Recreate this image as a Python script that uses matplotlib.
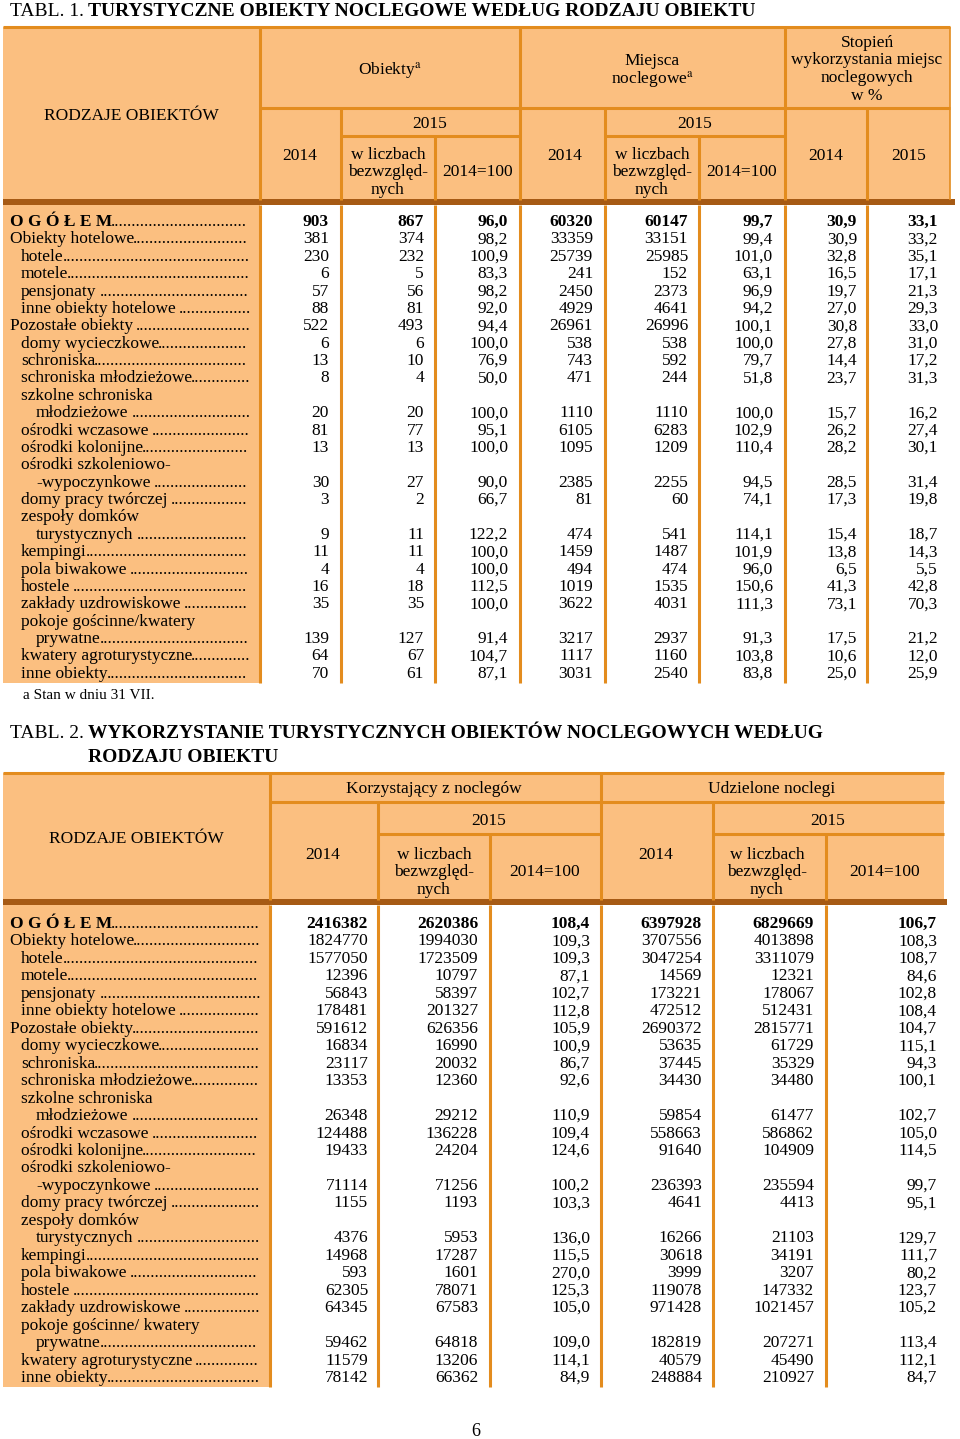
import matplotlib.pyplot as plt
from matplotlib.patches import Rectangle

plt.rcParams['font.family'] = ['Liberation Serif', 'DejaVu Serif']
plt.rcParams['mathtext.fontset'] = 'stix'

FILL = '#fbbf80'
LINE = '#e38c1e'
DARK = '#a65a14'
FS = 12.5

# ---- data: table 1 ----
t1_labels = ['O G Ó Ł E M', 'Obiekty hotelowe', 'hotele', 'motele', 'pensjonaty ',
             'inne obiekty hotelowe ', 'Pozostałe obiekty ', 'domy wycieczkowe',
             'schroniska', 'schroniska młodzieżowe', 'szkolne schroniska|młodzieżowe ',
             'ośrodki wczasowe ', 'ośrodki kolonijne', 'ośrodki szkoleniowo-|-wypoczynkowe ',
             'domy pracy twórczej ', 'zespoły domków|turystycznych ', 'kempingi',
             'pola biwakowe ', 'hostele ', 'zakłady uzdrowiskowe ',
             'pokoje gościnne/kwatery|prywatne', 'kwatery agroturystyczne', 'inne obiekty']
t2_labels = ['O G Ó Ł E M', 'Obiekty hotelowe', 'hotele', 'motele', 'pensjonaty ',
             'inne obiekty hotelowe ', 'Pozostałe obiekty', 'domy wycieczkowe',
             'schroniska', 'schroniska młodzieżowe', 'szkolne schroniska|młodzieżowe ',
             'ośrodki wczasowe ', 'ośrodki kolonijne', 'ośrodki szkoleniowo-|-wypoczynkowe ',
             'domy pracy twórczej ', 'zespoły domków|turystycznych ', 'kempingi',
             'pola biwakowe ', 'hostele ', 'zakłady uzdrowiskowe ',
             'pokoje gościnne/ kwatery|prywatne', 'kwatery agroturystyczne ', 'inne obiekty']
levels = [0, 0, 1, 1, 1, 1, 0, 1, 1, 1, 1, 1, 1, 1, 1, 1, 1, 1, 1, 1, 1, 1, 1]

obj_2014 = [903, 381, 230, 6, 57, 88, 522, 6, 13, 8, 20, 81, 13, 30, 3, 9, 11, 4, 16, 35, 139, 64, 70]
obj_2015 = [867, 374, 232, 5, 56, 81, 493, 6, 10, 4, 20, 77, 13, 27, 2, 11, 11, 4, 18, 35, 127, 67, 61]
obj_idx = [96.0, 98.2, 100.9, 83.3, 98.2, 92.0, 94.4, 100.0, 76.9, 50.0, 100.0, 95.1, 100.0,
           90.0, 66.7, 122.2, 100.0, 100.0, 112.5, 100.0, 91.4, 104.7, 87.1]
beds_2014 = [60320, 33359, 25739, 241, 2450, 4929, 26961, 538, 743, 471, 1110, 6105, 1095,
             2385, 81, 474, 1459, 494, 1019, 3622, 3217, 1117, 3031]
beds_2015 = [60147, 33151, 25985, 152, 2373, 4641, 26996, 538, 592, 244, 1110, 6283, 1209,
             2255, 60, 541, 1487, 474, 1535, 4031, 2937, 1160, 2540]
beds_idx = [99.7, 99.4, 101.0, 63.1, 96.9, 94.2, 100.1, 100.0, 79.7, 51.8, 100.0, 102.9, 110.4,
            94.5, 74.1, 114.1, 101.9, 96.0, 150.6, 111.3, 91.3, 103.8, 83.8]
occ_2014 = [30.9, 30.9, 32.8, 16.5, 19.7, 27.0, 30.8, 27.8, 14.4, 23.7, 15.7, 26.2, 28.2,
            28.5, 17.3, 15.4, 13.8, 6.5, 41.3, 73.1, 17.5, 10.6, 25.0]
occ_2015 = [33.1, 33.2, 35.1, 17.1, 21.3, 29.3, 33.0, 31.0, 17.2, 31.3, 16.2, 27.4, 30.1,
            31.4, 19.8, 18.7, 14.3, 5.5, 42.8, 70.3, 21.2, 12.0, 25.9]

# ---- data: table 2 ----
guests_2014 = [2416382, 1824770, 1577050, 12396, 56843, 178481, 591612, 16834, 23117, 13353,
               26348, 124488, 19433, 71114, 1155, 4376, 14968, 593, 62305, 64345, 59462,
               11579, 78142]
guests_2015 = [2620386, 1994030, 1723509, 10797, 58397, 201327, 626356, 16990, 20032, 12360,
               29212, 136228, 24204, 71256, 1193, 5953, 17287, 1601, 78071, 67583, 64818,
               13206, 66362]
guests_idx = [108.4, 109.3, 109.3, 87.1, 102.7, 112.8, 105.9, 100.9, 86.7, 92.6, 110.9, 109.4,
              124.6, 100.2, 103.3, 136.0, 115.5, 270.0, 125.3, 105.0, 109.0, 114.1, 84.9]
nights_2014 = [6397928, 3707556, 3047254, 14569, 173221, 472512, 2690372, 53635, 37445, 34430,
               59854, 558663, 91640, 236393, 4641, 16266, 30618, 3999, 119078, 971428, 182819,
               40579, 248884]
nights_2015 = [6829669, 4013898, 3311079, 12321, 178067, 512431, 2815771, 61729, 35329, 34480,
               61477, 586862, 104909, 235594, 4413, 21103, 34191, 3207, 147332, 1021457,
               207271, 45490, 210927]
nights_idx = [106.7, 108.3, 108.7, 84.6, 102.8, 108.4, 104.7, 115.1, 94.3, 100.1, 102.7, 105.0,
              114.5, 99.7, 95.1, 129.7, 111.7, 80.2, 123.7, 105.2, 113.4, 112.1, 84.7]


def fmt(v):
    if isinstance(v, float):
        return f'{v:.1f}'.replace('.', ',')
    return str(v)


fig = plt.figure(figsize=(9.6, 14.39), dpi=100)
ax = fig.add_axes([0, 0, 1, 1])
ax.set_xlim(0, 960)
ax.set_ylim(1439, 0)
ax.axis('off')
renderer = fig.canvas.get_renderer()


def txt(x, y, s, ha='center', size=FS, weight='normal'):
    return ax.text(x, y, s, ha=ha, va='center_baseline', fontsize=size, weight=weight)


def width(t):
    return t.get_window_extent(renderer).width


def hline(x0, x1, y, color=LINE, lw=2.2):
    ax.plot([x0, x1], [y, y], color=color, lw=lw, solid_capstyle='butt')


def vline(x, y0, y1, color=LINE, lw=2.2):
    ax.plot([x, x], [y0, y1], color=color, lw=lw, solid_capstyle='butt')


def title(x, y, lead, bold, cont=None):
    t = txt(x, y, lead, ha='left', size=14)
    xb = x + width(t) + 4
    txt(xb, y, bold, ha='left', size=14, weight='bold')
    if cont:
        txt(xb, y + 24, cont, ha='left', size=14, weight='bold')


dot = ax.text(0, -100, '.' * 40, fontsize=FS)
dot_w = width(dot) / 40
dot.remove()


def body(labels, cols, col_lines, pads, y0, step, x_dots):
    y = y0
    for i, lab in enumerate(labels):
        parts = lab.split('|')
        indent = 10 + 11 * levels[i]
        for j, p in enumerate(parts):
            x = indent + (15 if j > 0 else 0)
            if j == len(parts) - 1:
                w = 'bold' if i == 0 else 'normal'
                t = txt(x, y, p.rstrip(), ha='left', weight=w)
                start = x + width(t) + (3 if p.endswith(' ') else -1)
                n = int((x_dots + 1 - start) / dot_w)
                txt(start, y, '.' * n, ha='left')
                for c, vals in enumerate(cols):
                    txt(col_lines[c + 1] - pads[c], y, fmt(vals[i]), ha='right', weight=w)
            else:
                txt(x, y, p, ha='left')
            y += step
    return y


# ================= TABLE 1 =================
title(10, 9, 'TABL. 1.', 'TURYSTYCZNE OBIEKTY NOCLEGOWE WEDŁUG RODZAJU OBIEKTU')
c1 = [260, 341, 435, 520, 605, 699, 785, 867, 950]
top, bot = 27, 200
ax.add_patch(Rectangle((3, top), 947, bot - top, facecolor=FILL, edgecolor='none'))
ax.add_patch(Rectangle((3, 205), 257, 478, facecolor=FILL, edgecolor='none'))
hline(3, 950, top)
hline(260, 950, 108)
hline(341, 520, 136)
hline(605, 785, 136)
for x in [260, 520, 785]:
    vline(x, top, bot)
for x in [341, 605, 867]:
    vline(x, 108, bot)
for x in [435, 699]:
    vline(x, 136, bot)
vline(950, top, bot, lw=1.2)
ax.add_patch(Rectangle((3, 199), 952, 6, facecolor=DARK, edgecolor='none'))
for x in c1[:-1]:
    vline(x, 205, 683)

txt(131, 114, 'RODZAJE OBIEKTÓW')
txt(390, 67, 'Obiekty$^{\\rm a}$')
txt(652, 59, 'Miejsca')
txt(652, 76, 'noclegowe$^{\\rm a}$')
for k, s in enumerate(['Stopień', 'wykorzystania miejsc', 'noclegowych', 'w %']):
    txt(867, 41 + 17.5 * k, s)
txt(430, 122, '2015')
txt(695, 122, '2015')
for xc in [300, 565, 826]:
    txt(xc, 154, '2014')
txt(909, 154, '2015')
for xc in [388, 652]:
    for k, s in enumerate(['w liczbach', 'bezwzględ-', 'nych']):
        txt(xc, 153 + 17.5 * k, s)
txt(478, 170, '2014=100')
txt(742, 170, '2014=100')

body(t1_labels, [obj_2014, obj_2015, obj_idx, beds_2014, beds_2015, beds_idx, occ_2014, occ_2015],
     c1, [12, 11, 12, 12, 11, 12, 10, 12], 220, 17.38, 250)
txt(23, 694, 'a Stan w dniu 31 VII.', ha='left', size=11)

# ================= TABLE 2 =================
title(10, 732, 'TABL. 2.', 'WYKORZYSTANIE TURYSTYCZNYCH OBIEKTÓW NOCLEGOWYCH WEDŁUG',
      'RODZAJU OBIEKTU')
c2 = [270, 378, 490, 601, 713, 826, 944]
top, bot = 773, 900
ax.add_patch(Rectangle((3, top), 941, bot - top, facecolor=FILL, edgecolor='none'))
ax.add_patch(Rectangle((3, 905), 267, 482, facecolor=FILL, edgecolor='none'))
hline(3, 944, top)
hline(270, 944, 802)
hline(378, 601, 834)
hline(713, 944, 834)
for x in [270, 601]:
    vline(x, top, bot)
for x in [378, 713]:
    vline(x, 802, bot)
for x in [490, 826]:
    vline(x, 834, bot)
ax.add_patch(Rectangle((3, 899), 944, 6, facecolor=DARK, edgecolor='none'))
for x in c2[:-1]:
    vline(x, 905, 1387)

txt(136, 837, 'RODZAJE OBIEKTÓW')
txt(434, 787, 'Korzystający z noclegów')
txt(772, 787, 'Udzielone noclegi')
txt(489, 819, '2015')
txt(828, 819, '2015')
txt(323, 853, '2014')
txt(656, 853, '2014')
for xc in [434, 767]:
    for k, s in enumerate(['w liczbach', 'bezwzględ-', 'nych']):
        txt(xc, 853 + 17.5 * k, s)
txt(545, 870, '2014=100')
txt(885, 870, '2014=100')

body(t2_labels, [guests_2014, guests_2015, guests_idx, nights_2014, nights_2015, nights_idx],
     c2, [10, 12, 11, 11, 12, 7], 922, 17.46, 260)

txt(476, 1430, '6', size=13)

fig.savefig('out.png', dpi=100)
